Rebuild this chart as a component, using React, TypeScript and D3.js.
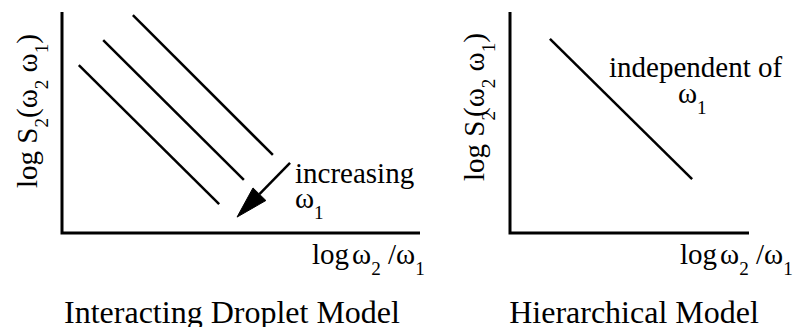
import React from "react";
import * as d3 from "d3";

// ---- data (in abstract log units, 0..10 on each axis) ----
const panelTitles = ["Interacting Droplet Model", "Hierarchical Model"];
// Left panel: three parallel lines for different ω1
const dropletX0 = [1.98, 1.15, 0.47];
const dropletY0 = [9.86, 8.73, 7.6];
const dropletX1 = [5.89, 5.08, 4.39];
const dropletY1 = [3.53, 2.4, 1.31];
// Arrow "increasing ω1" (start -> tip)
const arrowX = [6.37, 4.89];
const arrowY = [3.17, 0.72];
// Right panel: single line
const hierX = [1.67, 7.62];
const hierY = [8.78, 2.44];

const W = 793;
const H = 327;
const FONT = "Liberation Serif, Tinos, Times New Roman, Times, DejaVu Serif, serif";

type Part = { t: string; sub?: boolean; dx?: number };

function Rich({ parts, size }: { parts: Part[]; size: number }) {
  const out: React.ReactNode[] = [];
  let shifted = false;
  parts.forEach((p, i) => {
    const shift = size * 0.38;
    let dy = 0;
    if (p.sub && !shifted) { dy = shift; shifted = true; }
    else if (!p.sub && shifted) { dy = -shift; shifted = false; }
    out.push(
      <tspan key={i} dy={dy} dx={p.dx || 0} fontSize={p.sub ? size * 0.66 : size}>
        {p.t}
      </tspan>
    );
  });
  return <>{out}</>;
}

const yLabelPartsL: Part[] = [
  { t: "log S" }, { t: "2", sub: true }, { t: "(ω" }, { t: "2", sub: true },
  { t: " ω" }, { t: "1", sub: true }, { t: ")" },
];
const yLabelPartsR: Part[] = [
  { t: "log S" }, { t: "2", sub: true }, { t: "(ω", dx: -6 }, { t: "2", sub: true },
  { t: " ω" }, { t: "1", sub: true }, { t: ")" },
];
const xLabelParts: Part[] = [
  { t: "log" }, { t: "ω", dx: 3 }, { t: "2", sub: true }, { t: " /ω" }, { t: "1", sub: true },
];

export default function App() {
  const dom: [number, number] = [0, 10];
  const xL = d3.scaleLinear().domain(dom).range([62, 420]);
  const yL = d3.scaleLinear().domain(dom).range([233, 12]);
  const xR = d3.scaleLinear().domain(dom).range([510, 749]);
  const yR = d3.scaleLinear().domain(dom).range([233, 12]);

  const line = d3.line<[number, number]>();

  // arrow geometry
  const ax0 = xL(arrowX[0]), ay0 = yL(arrowY[0]);
  const ax1 = xL(arrowX[1]), ay1 = yL(arrowY[1]);
  const len = Math.hypot(ax1 - ax0, ay1 - ay0);
  const ux = (ax1 - ax0) / len, uy = (ay1 - ay0) / len;
  const headL = 32, headW = 9;
  const bx = ax1 - ux * headL, by = ay1 - uy * headL;
  const head: [number, number][] = [
    [ax1, ay1],
    [bx - uy * headW, by + ux * headW],
    [bx + uy * headW, by - ux * headW],
  ];

  const axisStroke = 3;
  const lineStroke = 2.5;
  const ts = { fontFamily: FONT } as React.CSSProperties;

  return (
    <svg
      width={W}
      height={H}
      viewBox={`0 0 ${W} ${H}`}
      style={{ position: "absolute", left: 0, top: 0, background: "#fff", fontFamily: FONT }}
    >
      <rect width={W} height={H} fill="#fff" />
      {/* Left panel axes */}
      <path d={line([[xL(0), yL(10)], [xL(0), yL(0)], [xL(10), yL(0)]]) || ""} fill="none" stroke="#000" strokeWidth={axisStroke} />
      {dropletX0.map((_, i) => (
        <path
          key={i}
          d={line([[xL(dropletX0[i]), yL(dropletY0[i])], [xL(dropletX1[i]), yL(dropletY1[i])]]) || ""}
          stroke="#000"
          strokeWidth={lineStroke}
        />
      ))}
      <path d={line([[ax0, ay0], [bx, by]]) || ""} stroke="#000" strokeWidth={lineStroke} />
      <path d={(line(head) || "") + "Z"} fill="#000" stroke="#000" strokeWidth={1} />
      <text style={ts} x={295} y={183} fontSize={29}>increasing</text>
      <text style={ts} x={295} y={208} fontSize={29}>
        <Rich parts={[{ t: "ω" }, { t: "1", sub: true }]} size={29} />
      </text>
      <text style={ts} transform="translate(37,111) rotate(-90)" textAnchor="middle" fontSize={29}>
        <Rich parts={yLabelPartsL} size={29} />
      </text>
      <text style={ts} x={312} y={264} fontSize={29}>
        <Rich parts={xLabelParts} size={29} />
      </text>
      <text style={ts} x={232} y={323} textAnchor="middle" fontSize={32}>{panelTitles[0]}</text>

      {/* Right panel */}
      <path d={line([[xR(0), yR(10)], [xR(0), yR(0)], [xR(10), yR(0)]]) || ""} fill="none" stroke="#000" strokeWidth={axisStroke} />
      <path
        d={line([[xR(hierX[0]), yR(hierY[0])], [xR(hierX[1]), yR(hierY[1])]]) || ""}
        stroke="#000"
        strokeWidth={lineStroke}
      />
      <text style={ts} x={609} y={77} fontSize={29}>independent of</text>
      <text style={ts} x={678} y={103} fontSize={29}>
        <Rich parts={[{ t: "ω" }, { t: "1", sub: true }]} size={29} />
      </text>
      <text style={ts} transform="translate(484,107) rotate(-90)" textAnchor="middle" fontSize={29}>
        <Rich parts={yLabelPartsR} size={29} />
      </text>
      <text style={ts} x={680} y={264} fontSize={29}>
        <Rich parts={xLabelParts} size={29} />
      </text>
      <text style={ts} x={634} y={323} textAnchor="middle" fontSize={32}>{panelTitles[1]}</text>
    </svg>
  );
}
